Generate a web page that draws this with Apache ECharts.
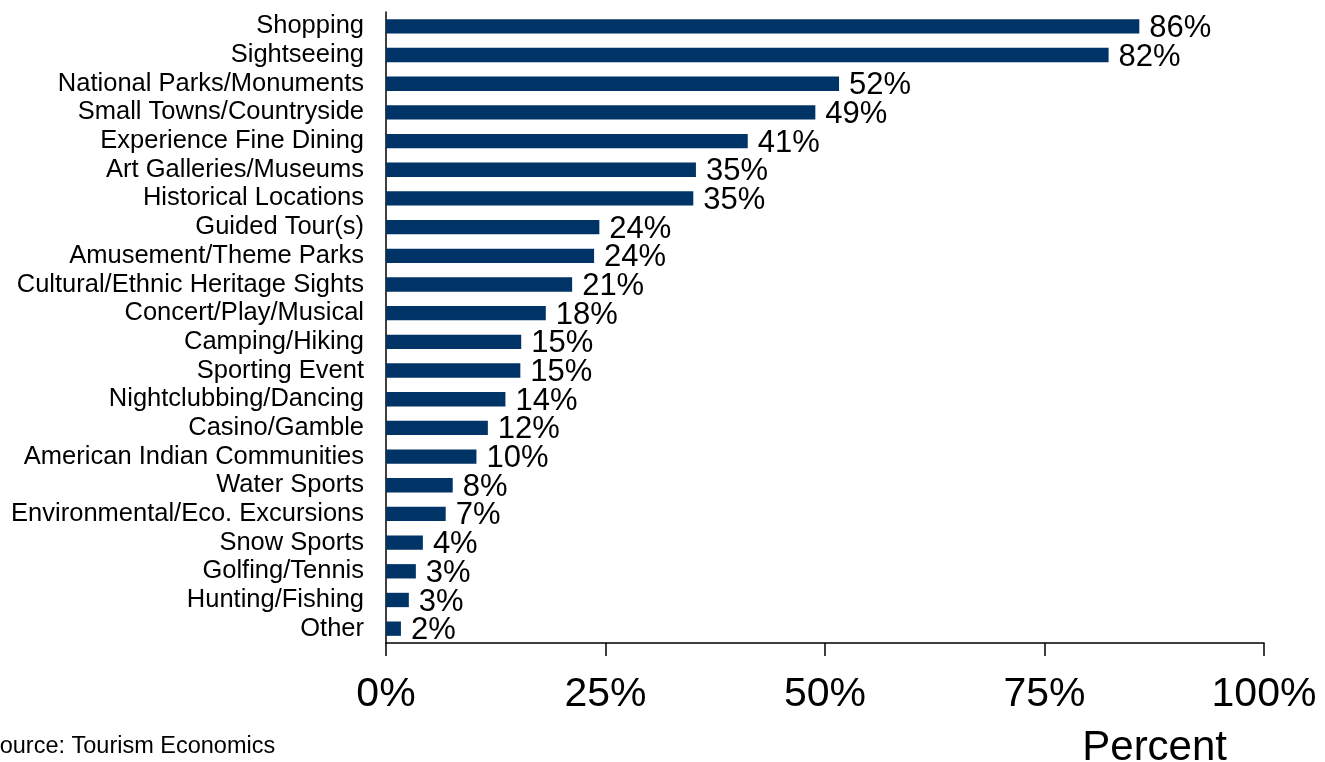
<!DOCTYPE html>
<html>
<head>
<meta charset="utf-8">
<script src="https://cdn.jsdelivr.net/npm/echarts@6/dist/echarts.min.js"></script>
<style>
  html, body { margin: 0; padding: 0; background: #fff; }
  #myChart { width: 1325px; height: 762px; }
</style>
</head>
<body>
<div id="myChart"></div>
<script>
var categories = [
  'Shopping', 'Sightseeing', 'National Parks/Monuments', 'Small Towns/Countryside',
  'Experience Fine Dining', 'Art Galleries/Museums', 'Historical Locations', 'Guided Tour(s)',
  'Amusement/Theme Parks', 'Cultural/Ethnic Heritage Sights', 'Concert/Play/Musical', 'Camping/Hiking',
  'Sporting Event', 'Nightclubbing/Dancing', 'Casino/Gamble', 'American Indian Communities',
  'Water Sports', 'Environmental/Eco. Excursions', 'Snow Sports', 'Golfing/Tennis',
  'Hunting/Fishing', 'Other'
]
var shares = [
  85.8, 82.3, 51.6, 48.9,
  41.2, 35.3, 35.0, 24.3,
  23.7, 21.2, 18.2, 15.4,
  15.3, 13.6, 11.6, 10.3,
  7.6, 6.8, 4.2, 3.4,
  2.6, 1.7
]
var xTicks = [0, 25, 50, 75, 100]

var font = 'Liberation Sans, Arial, sans-serif'
var myChart = echarts.init(document.getElementById('myChart'))
var option = {
  animation: false,
  grid: {
    left: 386,
    right: 61,
    top: 12,
    bottom: 119
  },
  xAxis: {
    type: 'value',
    min: xTicks[0],
    max: xTicks[xTicks.length - 1],
    interval: 25,
    splitLine: { show: false },
    axisLine: { show: true, lineStyle: { color: '#000', width: 1.5 } },
    axisTick: { show: true, length: 13, lineStyle: { color: '#000', width: 1.5 } },
    axisLabel: {
      margin: 31,
      color: '#000',
      fontFamily: font,
      fontSize: 41,
      formatter: function (v) { return v + '%' }
    }
  },
  yAxis: {
    type: 'category',
    data: categories,
    inverse: true,
    axisLine: { show: true, lineStyle: { color: '#000', width: 1.5 } },
    axisTick: { show: false },
    axisLabel: {
      margin: 22,
      color: '#000',
      fontFamily: font,
      fontSize: 25.5,
      interval: 0
    }
  },
  series: [{
    type: 'bar',
    data: shares,
    barWidth: '50%',
    itemStyle: { color: '#003366' },
    label: {
      show: true,
      position: 'right',
      distance: 10,
      offset: [0, 2],
      color: '#000',
      fontFamily: font,
      fontSize: 31,
      formatter: function (p) { return Math.round(p.value) + '%' }
    }
  }],
  graphic: [
    {
      type: 'text',
      right: 98,
      top: 727,
      style: { text: 'Percent', fontFamily: font, fontSize: 42, fill: '#000' }
    },
    {
      type: 'text',
      left: -16,
      top: 735,
      style: { text: 'Source: Tourism Economics', fontFamily: font, fontSize: 23.5, fill: '#000' }
    }
  ]
}
myChart.setOption(option, true)
</script>
</body>
</html>
